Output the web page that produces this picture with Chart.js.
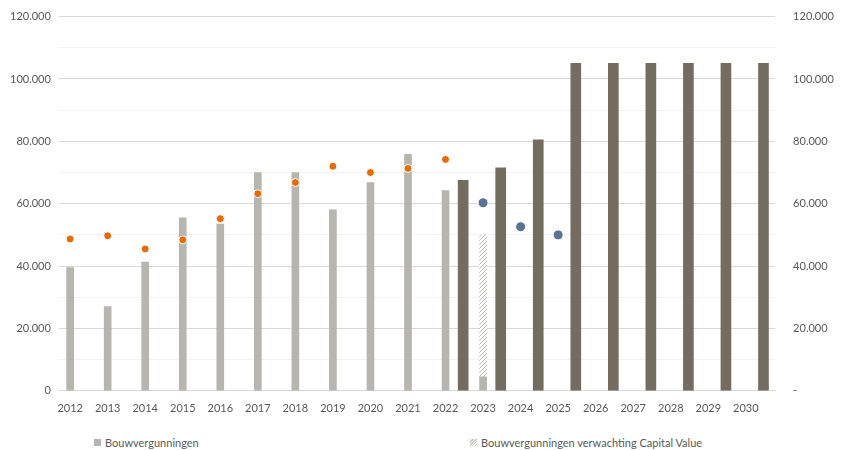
<!DOCTYPE html><html><head><meta charset="utf-8">
<script src="https://cdn.jsdelivr.net/npm/chart.js@4"></script>
<style>body{margin:0;background:#fff;font-family:Lato,"Open Sans",sans-serif}
#wrap{position:relative;width:850px;height:418px}
.lg{position:absolute;top:436px;font-size:11px;color:#595959;display:flex;align-items:center}
.sw{width:7px;height:7px;margin-right:4px;display:inline-block}</style></head><body>
<div id="wrap"><canvas id="c" width="850" height="418"></canvas></div>
<div class="lg" style="left:94px"><span class="sw" style="background:#b7b5af"></span>Bouwvergunningen</div>
<div class="lg" style="left:470px"><span class="sw" style="background:repeating-linear-gradient(135deg,#c9c7c2 0 1px,#fff 1px 2px)"></span>Bouwvergunningen verwachting Capital Value</div>
<script>
const years=[2012,2013,2014,2015,2016,2017,2018,2019,2020,2021,2022,2023];
const permits=[39500,27000,41300,55500,53500,70000,70000,58000,66800,75800,64200,4500];
const expectedCV2023=[4500,50000];
const orangeDots=[48700,49700,45500,48400,55200,63200,66800,72000,70000,71300,74200];
const blueYears=[2023,2024,2025];
const blueDots=[60300,52600,50000];
const darkPos=[2022.47,2023.47,2024.47,2025.47,2026.47,2027.47,2028.47,2029.47,2030.47];
const darkVals=[67500,71500,80500,105000,105000,105000,105000,105000,105000];
const pc=document.createElement('canvas');pc.width=4;pc.height=4;const p=pc.getContext('2d');
p.fillStyle='#fff';p.fillRect(0,0,4,4);p.strokeStyle='#bdbbb6';p.lineWidth=1;
p.beginPath();p.moveTo(0,4);p.lineTo(4,0);p.moveTo(-1,1);p.lineTo(1,-1);p.moveTo(3,5);p.lineTo(5,3);p.stroke();
const hatch=document.getElementById('c').getContext('2d').createPattern(pc,'repeat');
const fnt={family:'Lato',size:11};
const fmt=v=>v.toLocaleString('de-DE');
new Chart(document.getElementById('c'),{
data:{datasets:[
{type:'bar',data:years.map((y,i)=>({x:y,y:permits[i]})),backgroundColor:'#b7b5af',barThickness:7,grouped:false,order:3},
{type:'bar',data:[{x:2023,y:expectedCV2023}],backgroundColor:hatch,barThickness:7,grouped:false,order:3},
{type:'bar',data:darkPos.map((x,i)=>({x,y:darkVals[i]})),backgroundColor:'#756c60',barThickness:10,grouped:false,order:3},
{type:'scatter',data:orangeDots.map((v,i)=>({x:years[i],y:v})),backgroundColor:'#e36c09',borderColor:'#fff',borderWidth:1,pointRadius:4,order:1},
{type:'scatter',data:blueYears.map((x,i)=>({x,y:blueDots[i]})),backgroundColor:'#5a7490',borderColor:'#fff',borderWidth:1,pointRadius:5,order:1}
]},
options:{responsive:false,animation:false,
layout:{padding:{left:2,right:6,top:12,bottom:0}},
plugins:{legend:{display:false},tooltip:{enabled:false}},
scales:{
x:{type:'linear',offset:false,min:2011.7,max:2030.78,grid:{display:false},border:{color:'#d9d9d9'},
afterBuildTicks:a=>{a.ticks=[];for(let y=2012;y<=2030;y++)a.ticks.push({value:y});},
ticks:{color:'#595959',font:fnt,callback:v=>String(v),maxRotation:0,autoSkip:false}},
y:{min:0,max:120000,afterBuildTicks:a=>{a.ticks=[];for(let v=0;v<=120000;v+=10000)a.ticks.push({value:v});},
grid:{color:c=>c.tick.value%20000===0?'#d9d9d9':'#f2f2f2',drawTicks:false},border:{display:false},
ticks:{color:'#595959',font:fnt,padding:8,callback:v=>v%20000===0?fmt(v):''}},
y2:{position:'right',min:0,max:120000,afterBuildTicks:a=>{a.ticks=[];for(let v=0;v<=120000;v+=20000)a.ticks.push({value:v});},
grid:{display:false},border:{display:false},
ticks:{color:'#595959',font:fnt,padding:10,callback:v=>v===0?'-':fmt(v)}}
}}});
</script></body></html>
